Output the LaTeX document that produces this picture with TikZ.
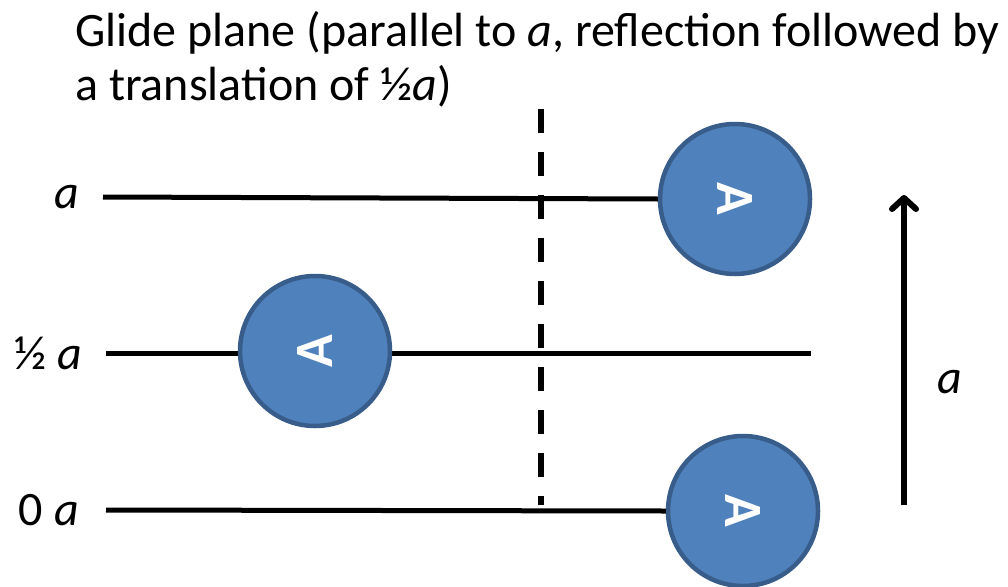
\documentclass[tikz,border=0pt]{standalone}
\usepackage{fontspec}
\setmainfont{Carlito}
\usetikzlibrary{arrows.meta,positioning}
\definecolor{atomfill}{RGB}{79,129,189}
\definecolor{atomdraw}{RGB}{56,93,138}

\begin{document}
\begin{tikzpicture}[
    x=1pt, y=-1pt,
    atom/.style={circle, draw=atomdraw, fill=atomfill, line width=4.5pt, minimum size=150pt, inner sep=0pt, text=white, font=\fontsize{54}{60}\selectfont\bfseries},
    axis/.style={line width=5pt},
    lbl/.style={font=\fontsize{48}{54}\selectfont, inner sep=0pt},
    glide/.style={line width=6pt, dash pattern=on 24pt off 19pt},
    arr/.style={line width=6pt, -{Straight Barb[length=11pt, width=24pt, line join=round, line cap=round]}}
  ]
    \useasboundingbox (0,0) rectangle (1008,586);
    \node[lbl, anchor=north west, align=left] (title) at (75,11) {Glide plane (parallel to \textit{a}, reflection followed by\\a translation of ½\textit{a})};
    % lattice levels
    \node[lbl, anchor=east] (la) at (79,197) {\textit{a}};
    \node[lbl, anchor=east] (lhalf) at (82,353) {½ \textit{a}};
    \node[lbl, anchor=east] (lzero) at (79,510) {0 \textit{a}};
    \coordinate (a0) at (103,197);
    \coordinate (h0) at (106,353);
    \coordinate (h1) at (811,353);
    \coordinate (z0) at (106,510);
    % glide plane
    \coordinate (g0) at (541,109);
    \coordinate (g1) at (541,505);
    \draw[glide] (g0) -- (g1);
    \draw[axis] (h0) -- (h1);
    \node[atom, rotate=-90] (top) at (735,199) {A};
    \node[atom, rotate=90] (mid) at (315,351) {A};
    \node[atom, rotate=-90] (bot) at (743,511) {A};
    \draw[axis] (a0) -- (top.south);
    \draw[axis] (z0) -- (bot.south);
    % translation vector
    \coordinate (v0) at (904,505);
    \coordinate (v1) at (904,195);
    \draw[arr] (v0) -- (v1);
    \node[lbl, anchor=base] (va) at (950,393) {\textit{a}};
  \end{tikzpicture}
\end{document}
